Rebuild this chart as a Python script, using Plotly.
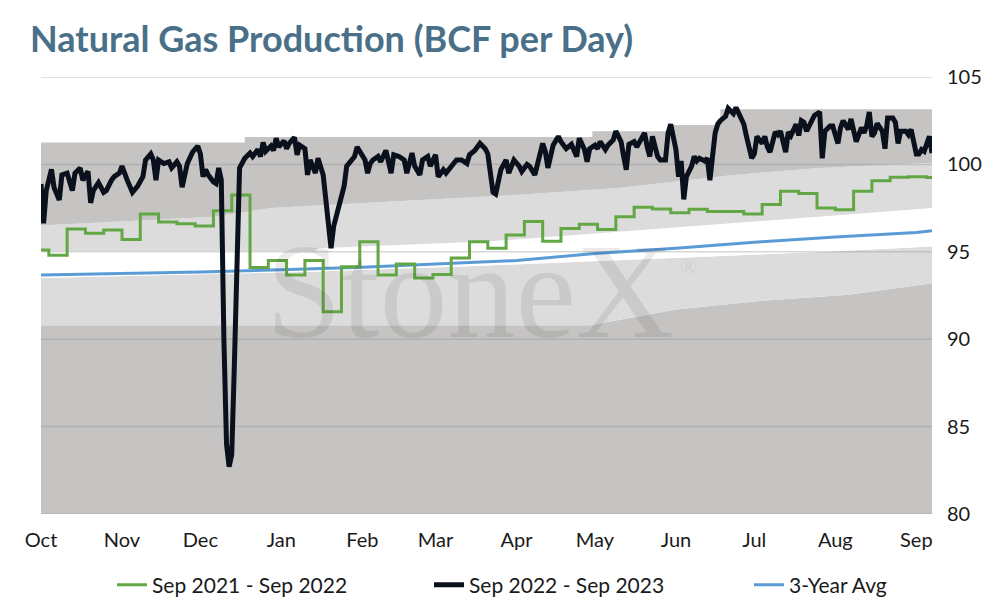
import pandas as pd
import plotly.graph_objects as go

# --- data (day offsets from 1 Oct; values in BCF/d) ---
start_date = pd.Timestamp("2022-10-01")
axis_days = [0, 341]
y_ticks = [80, 85, 90, 95, 100, 105]

cur_days = [0, 1, 2, 4, 5, 7, 8, 10, 12, 13, 15, 16, 18, 19, 20, 22, 24, 25, 27, 28,
            30, 31, 33, 35, 37, 39, 40, 42, 43, 44, 45, 47, 49, 50, 52, 53, 54, 56, 58, 60,
            61, 62, 63, 64, 66, 67, 68, 69, 70, 71, 72, 73, 74, 75, 76, 78, 80, 81, 83, 84,
            85, 86, 88, 89, 90, 91, 93, 94, 95, 97, 98, 99, 101, 102, 103, 105, 106, 108, 109, 110,
            111, 112, 114, 116, 117, 119, 120, 121, 122, 124, 125, 126, 127, 129, 130, 132, 134, 135, 137, 139,
            140, 142, 143, 145, 146, 148, 149, 151, 152, 154, 155, 157, 159, 161, 163, 164, 166, 168, 170, 171,
            172, 173, 174, 175, 176, 178, 179, 181, 183, 184, 186, 187, 189, 190, 192, 193, 194, 196, 197, 198,
            199, 201, 203, 204, 205, 206, 208, 209, 210, 212, 213, 214, 216, 217, 219, 220, 222, 223, 224, 225,
            227, 228, 229, 231, 232, 233, 234, 236, 237, 239, 240, 241, 243, 244, 245, 246, 247, 249, 250, 251,
            252, 254, 255, 256, 258, 259, 260, 262, 263, 265, 266, 268, 269, 270, 272, 273, 274, 276, 277, 278,
            279, 281, 282, 283, 285, 286, 287, 289, 290, 291, 292, 293, 295, 296, 297, 298, 299, 300, 302, 303,
            305, 306, 307, 309, 310, 311, 312, 314, 315, 316, 317, 318, 319, 320, 322, 323, 324, 326, 327, 328,
            329, 331, 332, 333, 335, 336, 337, 338, 340, 341]
cur_vals = [98.88, 96.63, 98.5, 99.71, 98.68, 97.96, 99.4, 99.5, 98.5, 99.5, 99.8, 99.1, 99.6, 97.8, 98.5, 98.96, 98.4, 98.5, 99.1, 99.3,
            99.5, 99.9, 99.1, 98.4, 98.76, 99.3, 100.25, 100.6, 100.25, 99.1, 100.25, 100.05, 100.15, 99.8, 100.15, 99.9, 98.7, 100.05, 100.7, 101.05,
            100.6, 99.3, 99.7, 99.4, 99.0, 98.9, 99.8, 99.1, 90.0, 84.0, 82.7, 83.4, 88.5, 94.5, 99.8, 100.35, 100.65, 100.45, 100.85, 100.45,
            101.25, 100.75, 101.05, 100.8, 101.5, 101.0, 101.35, 100.9, 101.2, 101.55, 100.55, 101.1, 100.9, 99.4, 100.25, 99.5, 100.35, 99.4, 97.96, 96.05,
            95.2, 96.45, 97.6, 98.75, 99.9, 100.25, 100.45, 101.0, 100.75, 100.25, 99.5, 100.05, 100.25, 100.45, 100.15, 100.8, 99.5, 100.55, 100.45, 100.25,
            99.5, 100.65, 99.9, 99.4, 100.25, 100.45, 99.9, 100.55, 99.3, 99.7, 99.5, 99.9, 100.25, 100.25, 100.05, 100.55, 100.8, 101.2, 100.9, 100.6,
            99.2, 98.4, 98.3, 98.9, 99.7, 100.25, 99.5, 100.25, 99.9, 99.6, 100.0, 99.9, 99.4, 100.0, 101.2, 100.75, 99.8, 101.1, 101.3, 101.6,
            101.3, 100.9, 101.15, 100.85, 100.45, 101.5, 100.85, 100.15, 100.9, 101.1, 100.9, 101.3, 100.85, 101.1, 101.4, 101.9, 101.3, 100.45, 99.7, 101.15,
            101.3, 101.0, 101.3, 101.8, 101.0, 100.45, 101.6, 100.45, 100.25, 100.25, 101.8, 102.3, 100.85, 99.3, 100.2, 98.0, 99.3, 99.9, 100.45, 100.2,
            100.35, 100.2, 100.35, 99.1, 101.8, 102.3, 102.5, 102.75, 103.2, 102.9, 103.25, 102.5, 102.3, 101.6, 100.35, 100.6, 101.6, 101.2, 101.6, 101.0,
            100.7, 101.85, 101.7, 101.9, 100.7, 101.85, 101.65, 102.3, 101.65, 102.5, 102.4, 101.9, 102.6, 102.8, 102.9, 103.0, 100.35, 101.9, 102.2, 102.2,
            101.2, 102.1, 102.5, 102.0, 102.6, 101.9, 101.3, 102.1, 101.8, 102.2, 103.0, 101.6, 101.8, 102.35, 101.9, 100.9, 102.65, 102.65, 102.4, 101.2,
            101.9, 101.9, 101.7, 102.0, 100.6, 100.6, 100.85, 100.75, 101.6, 100.65]

prev_days = [0, 3, 10, 17, 24, 31, 38, 45, 52, 59, 66, 73, 80, 87, 94, 101, 108, 115, 122, 129,
             136, 143, 150, 157, 164, 171, 178, 185, 192, 199, 206, 213, 220, 227, 234, 241, 248, 255, 262, 269,
             276, 283, 290, 297, 304, 311, 318, 325, 332, 339, 341]
prev_vals = [95.1, 94.8, 96.3, 96.06, 96.25, 95.7, 97.16, 96.7, 96.6, 96.47, 97.35, 98.25, 94.1, 94.5, 93.67, 94.5, 91.57, 94.15, 95.58, 93.67,
             94.3, 93.5, 93.7, 94.65, 95.58, 95.2, 95.96, 96.73, 95.6, 96.34, 96.57, 96.28, 97.0, 97.55, 97.45, 97.24, 97.43, 97.3, 97.3, 97.16,
             97.7, 98.46, 98.33, 97.5, 97.4, 98.46, 99.07, 99.26, 99.3, 99.25, 99.25]

avg_days = [0, 31, 61, 92, 123, 151, 182, 212, 243, 273, 304, 335, 341]
avg_vals = [93.67, 93.75, 93.85, 93.97, 94.12, 94.3, 94.5, 94.9, 95.2, 95.55, 95.85, 96.1, 96.2]

# background range bands (boundaries, bottom to top)
low_outer_days = [0, 210, 221, 243, 276, 309, 341]
low_outer_vals = [90.8, 90.8, 91.1, 91.7, 92.2, 92.55, 93.2]
low_inner_days = [0, 100, 168, 300, 341]
low_inner_vals = [93.5, 93.85, 94.2, 95.0, 95.3]
high_inner_days = [0, 105, 106, 172, 341]
high_inner_vals = [95.05, 95.05, 95.2, 95.6, 97.5]
high_outer_days = [0, 66, 88, 176, 221, 265, 298, 341]
high_outer_vals = [96.5, 97.0, 97.5, 98.2, 98.65, 99.4, 99.8, 100.1]
top_days = [0, 78, 211, 241, 260, 341]
top_vals = [101.25, 101.57, 101.9, 102.25, 103.15, 103.15]


def to_dates(days):
    return [start_date + pd.Timedelta(days=d) for d in days]


DARK = "#c5c4c3"
LIGHT = "#dcdcdc"
FONT = "Lato"
TXT = "#1a1a1a"
W, H = 986, 598   # page adds an 8px body margin

fig = go.Figure()

bands = [
    (low_outer_days, low_outer_vals, DARK, "tozeroy", "linear"),
    (low_inner_days, low_inner_vals, LIGHT, "tonexty", "linear"),
    (high_inner_days, high_inner_vals, "white", "tonexty", "linear"),
    (high_outer_days, high_outer_vals, LIGHT, "tonexty", "linear"),
    (top_days, top_vals, DARK, "tonexty", "hv"),
]
for d, v, col, fill, shape in bands:
    fig.add_trace(go.Scatter(
        x=to_dates(d), y=v, mode="lines", fill=fill, fillcolor=col,
        line=dict(width=0, color=col, shape=shape),
        showlegend=False, hoverinfo="skip"))

# gridlines drawn over the bands
gx, gy = [], []
for t in y_ticks:
    gx += to_dates(axis_days) + [None]
    gy += [t, t, None]
fig.add_trace(go.Scatter(x=gx, y=gy, mode="lines",
                         line=dict(color="rgba(140,140,140,0.35)", width=1.5),
                         showlegend=False, hoverinfo="skip"))

fig.add_trace(go.Scatter(x=to_dates(avg_days), y=avg_vals, mode="lines",
                         name="3-Year Avg", legend="legend3",
                         line=dict(color="#5b9bd5", width=3)))
fig.add_trace(go.Scatter(x=to_dates(prev_days), y=prev_vals, mode="lines",
                         name="Sep 2021 - Sep 2022", legend="legend",
                         line=dict(color="#62a744", width=3, shape="hv")))
fig.add_trace(go.Scatter(x=to_dates(cur_days), y=cur_vals, mode="lines",
                         name="Sep 2022 - Sep 2023", legend="legend2",
                         line=dict(color="#0a111c", width=5)))

# watermark
fig.add_annotation(text="StoneX", xref="paper", yref="paper", x=0.482, y=0.511,
                   showarrow=False, font=dict(family="Liberation Serif", size=136,
                                              color="rgba(0,0,0,0.08)"))
fig.add_annotation(text="®", xref="paper", yref="paper", x=0.738, y=0.567,
                   showarrow=False, font=dict(family="Liberation Serif", size=22,
                                              color="rgba(0,0,0,0.08)"))

fig.update_xaxes(
    range=to_dates(axis_days), type="date", automargin=False,
    tick0=to_dates([0])[0], dtick="M1", tickformat="%b",
    showgrid=False, zeroline=False, showline=False, ticks="",
    ticklabelstandoff=12,
    tickfont=dict(family=FONT, size=20, color=TXT))
fig.update_yaxes(
    range=[80, 105], side="right", tickvals=y_ticks, automargin=False,
    showgrid=False, zeroline=False, showline=False, ticks="",
    ticklabelstandoff=14,
    tickfont=dict(family=FONT, size=20, color=TXT))

leg = dict(orientation="h", xref="container", yref="container",
           xanchor="left", yanchor="middle", y=1 - 577 / H,
           bgcolor="rgba(0,0,0,0)", font=dict(family=FONT, size=21, color=TXT))
fig.update_layout(
    width=W, height=H,
    title=dict(text="<b>Natural Gas Production (BCF per Day)</b>",
               x=22 / W, xanchor="left", y=1 - 31 / H, yanchor="middle",
               font=dict(family=FONT, size=36, color="#4a7089")),
    plot_bgcolor="white", paper_bgcolor="white",
    margin=dict(l=33, r=62, t=69, b=92),
    font=dict(family=FONT, size=19, color=TXT),
    legend=dict(leg, x=104 / W),
    legend2=dict(leg, x=421 / W),
    legend3=dict(leg, x=741 / W),
    showlegend=True,
)

fig.write_html("out.html")
